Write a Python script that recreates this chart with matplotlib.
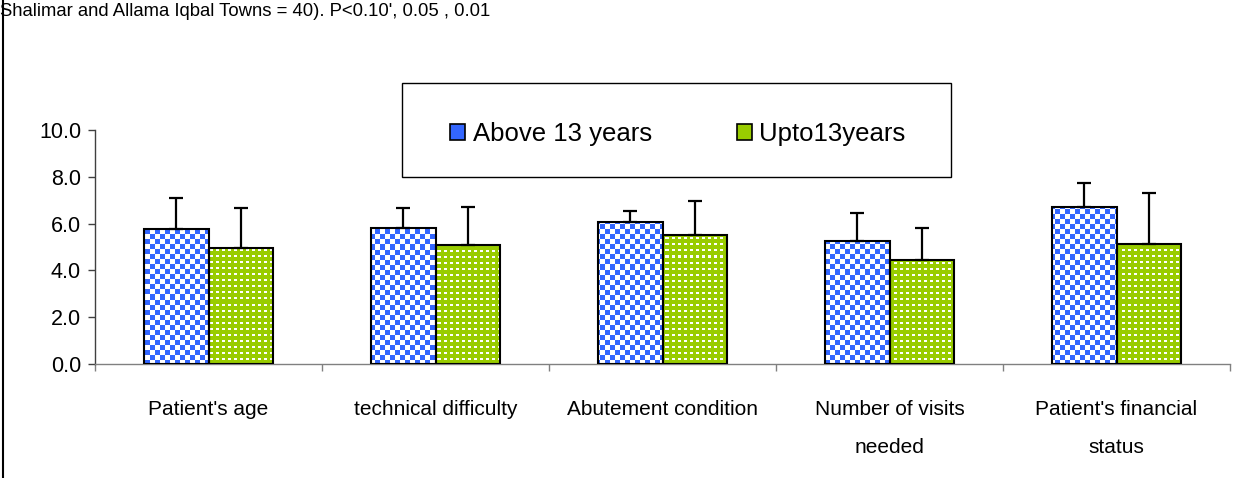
import numpy as np
import matplotlib
matplotlib.use('Agg')
import matplotlib.pyplot as plt
from matplotlib.patches import Patch, Rectangle
from matplotlib.lines import Line2D

plt.rcParams['font.family'] = ['Liberation Sans', 'DejaVu Sans']

# data
categories = ["Patient's age", "technical difficulty", "Abutement condition",
              "Number of visits\nneeded", "Patient's financial\nstatus"]
above = [5.77, 5.83, 6.08, 5.27, 6.72]
above_sd = [1.32, 0.84, 0.47, 1.18, 1.00]
upto = [4.96, 5.07, 5.53, 4.44, 5.13]
upto_sd = [1.71, 1.65, 1.45, 1.38, 2.16]
series_names = ['Above 13 years', 'Upto13years']
blue = '#3366FF'
green = '#99CC00'

fig = plt.figure(figsize=(12.41, 4.78), dpi=100)
W, H = 1241, 478
ax = fig.add_axes([95 / W, 1 - 364 / H, 1135 / W, 234 / H])

x = np.arange(len(categories))
bw = 0.286

bars1 = ax.bar(x - bw / 2, above, bw, facecolor='none', edgecolor='black', linewidth=1.5, zorder=3)
bars2 = ax.bar(x + bw / 2, upto, bw, facecolor='none', edgecolor='black', linewidth=1.5, zorder=3)

# fill textures, one pixel per screen pixel
pw, ph = 1135, 234
yy, xx = np.indices((ph, pw))
checker = ((yy // 5 + xx // 5) % 2 == 0)
tex_blue = np.ones((ph, pw, 3))
tex_blue[checker] = matplotlib.colors.to_rgb(blue)
dots = (yy % 6 < 2) & (xx % 6 < 3)
tex_green = np.ones((ph, pw, 3))
tex_green[~dots] = matplotlib.colors.to_rgb(green)

for bars, tex in [(bars1, tex_blue), (bars2, tex_green)]:
    for b in bars:
        im = ax.imshow(tex, extent=(-0.5, 4.5, 0, 10), origin='upper',
                       interpolation='nearest', aspect='auto', zorder=2)
        im.set_clip_path(b)

# upper error bars only
ax.errorbar(x - bw / 2, above, yerr=[np.zeros(len(above)), above_sd], fmt='none',
            ecolor='black', elinewidth=1.6, capsize=4.8, capthick=1.6, zorder=4)
ax.errorbar(x + bw / 2, upto, yerr=[np.zeros(len(upto)), upto_sd], fmt='none',
            ecolor='black', elinewidth=1.6, capsize=4.8, capthick=1.6, zorder=4)

ax.set_xlim(-0.5, 4.5)
ax.set_ylim(0, 10)
ax.set_yticks(np.arange(0, 10.1, 2))
ax.set_yticklabels(['%.1f' % v for v in np.arange(0, 10.1, 2)], fontsize=15.5)
ax.set_xticks(x)
ax.set_xticklabels(categories, fontsize=15, linespacing=2.25)
ax.set_xticks(np.arange(-0.5, 4.6, 1), minor=True)
ax.tick_params(axis='x', which='major', length=0, pad=26)
ax.tick_params(axis='x', which='minor', length=5, width=1, color='#808080', direction='out')
ax.tick_params(axis='y', length=5, width=1, color='#404040', pad=5)
for s in ['top', 'right']:
    ax.spines[s].set_visible(False)
ax.spines['left'].set_color('#404040')
ax.spines['bottom'].set_color('#808080')
ax.spines['left'].set_linewidth(1)
ax.spines['bottom'].set_linewidth(1)
ax.set_facecolor('none')

# legend with its own frame
frame = Rectangle((402 / W, 1 - 177 / H), 549 / W, 94 / H, transform=fig.transFigure,
                  facecolor='white', edgecolor='black', linewidth=1, zorder=5)
fig.add_artist(frame)
handles = [Patch(facecolor=blue, edgecolor='black', linewidth=1.2),
           Patch(facecolor=green, edgecolor='black', linewidth=1.2)]
leg = fig.legend(handles, series_names, loc='center', bbox_to_anchor=(678 / W, 1 - 134 / H),
                 ncol=2, frameon=False, fontsize=18.5, handlelength=0.58, handleheight=0.58,
                 handletextpad=0.3, columnspacing=3.3)
leg.set_zorder(6)

fig.text(0.0, 1 - 12 / H, "Shalimar and Allama Iqbal Towns = 40). P<0.10', 0.05 , 0.01",
         fontsize=13.3, va='center', ha='left')
fig.add_artist(Line2D([3 / W, 3 / W], [0, 1], transform=fig.transFigure, color='black', lw=1.5))

fig.savefig('out.png', dpi=100)
